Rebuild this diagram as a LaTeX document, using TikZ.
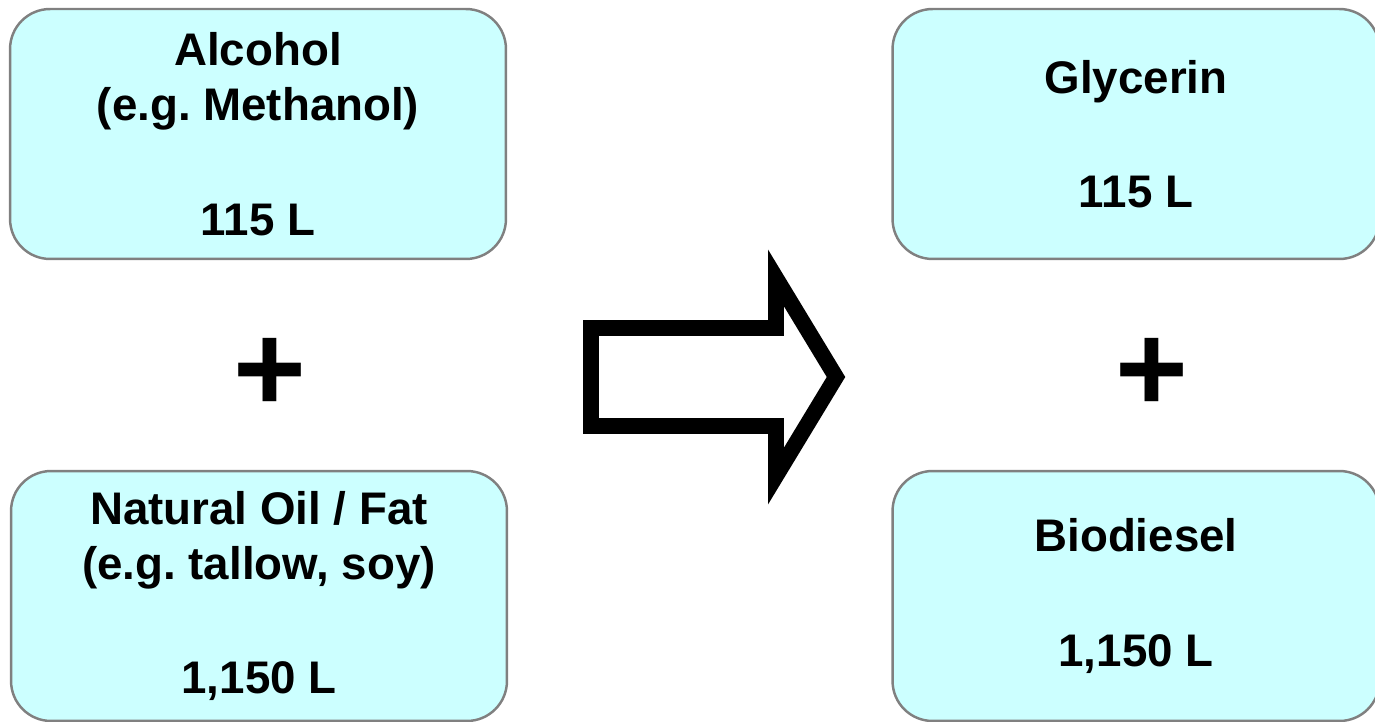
\documentclass[tikz,border=0pt]{standalone}
\usepackage{fontspec}
\setmainfont{Liberation Sans}
\frenchspacing
\definecolor{boxfill}{HTML}{CCFFFF}
\definecolor{boxline}{HTML}{808080}

\tikzset{
    stock/.style={draw=boxline, fill=boxfill, line width=1.4pt, rounded corners=0.8cm,
        minimum height=5cm, align=center, inner sep=0pt,
        font=\fontsize{26}{31.2}\selectfont\bfseries},
    plussign/.style={inner sep=0pt, font=\fontsize{71}{71}\selectfont\bfseries}
}

\begin{document}
\begin{tikzpicture}[x=0.02cm, y=-0.02cm]
    \useasboundingbox (0,0) rectangle (1375,722);
    \clip (0,0) rectangle (1375,722);

    \begin{scope}
        \node[stock, minimum width=9.92cm] (alcohol) at (258,134) {Alcohol\\(e.g. Methanol)\\[34pt]115 L};
        \node[plussign] (plusin) at (270,375) {+};
        \node[stock, minimum width=9.92cm] (oil) at (259,596) {Natural Oil / Fat\\(e.g. tallow, soy)\\[34pt]1,150 L};
    \end{scope}

    \draw[line width=9pt, miter limit=10, fill=white] (591,328) -- (776,328) -- (776,278) -- (836,377)
        -- (776,476) -- (776,426) -- (591,426) -- cycle;

    \begin{scope}
        \node[stock, minimum width=9.74cm] (glycerin) at (1136,134) {Glycerin\\[34pt]115 L};
        \node[plussign] (plusout) at (1152,375) {+};
        \node[stock, minimum width=9.74cm] (biodiesel) at (1136,596) {Biodiesel\\[34pt]1,150 L};
    \end{scope}

\end{tikzpicture}
\end{document}
